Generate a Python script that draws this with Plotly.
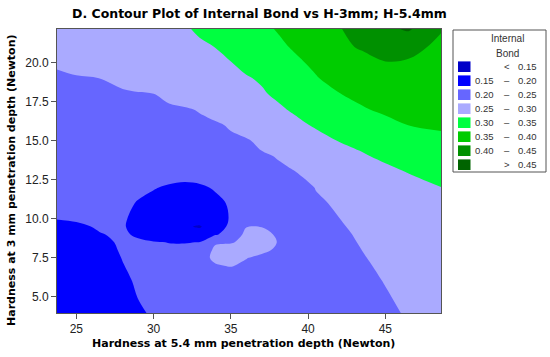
import plotly.graph_objects as go

# Hardness at 5.4 mm (x) and at 3 mm (y), Newton
h54 = [23.75, 25, 26.5, 28, 29, 30, 31, 32, 33, 34, 35, 36, 37, 38, 39, 40.5, 42, 43.5, 45, 46.5, 48.6]
h3 = [3.97, 5, 6, 7, 7.5, 8, 8.5, 9, 9.5, 10, 11, 12, 13, 14, 15, 16, 17, 18, 19, 20, 21, 22.15]

# Internal Bond, one row per h3 value
internal_bond = [
    [0.1770, 0.1820, 0.1880, 0.1940, 0.1980, 0.2017, 0.2047, 0.2077, 0.2107, 0.2137, 0.2168, 0.2198, 0.2228, 0.2258, 0.2289, 0.2334, 0.2379, 0.2424, 0.2470, 0.2515, 0.2578],
    [0.1790, 0.1840, 0.1900, 0.1960, 0.2003, 0.2030, 0.2061, 0.2091, 0.2122, 0.2152, 0.2183, 0.2213, 0.2244, 0.2274, 0.2305, 0.2351, 0.2396, 0.2442, 0.2488, 0.2533, 0.2596],
    [0.1808, 0.1858, 0.1918, 0.1978, 0.2014, 0.2045, 0.2075, 0.2106, 0.2160, 0.2260, 0.2300, 0.2290, 0.2280, 0.2291, 0.2322, 0.2368, 0.2414, 0.2460, 0.2506, 0.2551, 0.2614],
    [0.1826, 0.1876, 0.1936, 0.1996, 0.2028, 0.2059, 0.2090, 0.2140, 0.2280, 0.2480, 0.2515, 0.2450, 0.2380, 0.2340, 0.2350, 0.2386, 0.2433, 0.2480, 0.2526, 0.2571, 0.2634],
    [0.1834, 0.1884, 0.1944, 0.2004, 0.2035, 0.2066, 0.2110, 0.2180, 0.2400, 0.2555, 0.2565, 0.2510, 0.2445, 0.2400, 0.2370, 0.2400, 0.2443, 0.2491, 0.2536, 0.2581, 0.2644],
    [0.1843, 0.1893, 0.1953, 0.2013, 0.2042, 0.2040, 0.2035, 0.2050, 0.2280, 0.2560, 0.2580, 0.2565, 0.2555, 0.2465, 0.2420, 0.2420, 0.2453, 0.2501, 0.2545, 0.2590, 0.2653],
    [0.1852, 0.1902, 0.1962, 0.2022, 0.2035, 0.2015, 0.1995, 0.1990, 0.2005, 0.2465, 0.2485, 0.2545, 0.2570, 0.2498, 0.2440, 0.2430, 0.2460, 0.2512, 0.2555, 0.2600, 0.2663],
    [0.1858, 0.1914, 0.1988, 0.2035, 0.1965, 0.1860, 0.1770, 0.1600, 0.1680, 0.1960, 0.2160, 0.2620, 0.2605, 0.2461, 0.2445, 0.2450, 0.2475, 0.2519, 0.2563, 0.2608, 0.2672],
    [0.1901, 0.1958, 0.2025, 0.2030, 0.1887, 0.1780, 0.1700, 0.1550, 0.1460, 0.1820, 0.2077, 0.2485, 0.2490, 0.2468, 0.2460, 0.2470, 0.2487, 0.2530, 0.2575, 0.2620, 0.2683],
    [0.2008, 0.2030, 0.2045, 0.2040, 0.1907, 0.1810, 0.1740, 0.1700, 0.1720, 0.1860, 0.2025, 0.2200, 0.2330, 0.2420, 0.2450, 0.2470, 0.2498, 0.2558, 0.2630, 0.2700, 0.2790],
    [0.2060, 0.2065, 0.2070, 0.2060, 0.1983, 0.1880, 0.1810, 0.1780, 0.1800, 0.1890, 0.2054, 0.2210, 0.2320, 0.2390, 0.2440, 0.2480, 0.2518, 0.2600, 0.2680, 0.2765, 0.2880],
    [0.2110, 0.2115, 0.2120, 0.2100, 0.2060, 0.2025, 0.1952, 0.1890, 0.1930, 0.2047, 0.2130, 0.2220, 0.2300, 0.2370, 0.2430, 0.2505, 0.2600, 0.2690, 0.2780, 0.2870, 0.2995],
    [0.2160, 0.2165, 0.2170, 0.2170, 0.2175, 0.2180, 0.2185, 0.2204, 0.2230, 0.2270, 0.2320, 0.2370, 0.2420, 0.2460, 0.2485, 0.2586, 0.2693, 0.2800, 0.2907, 0.3014, 0.3150],
    [0.2210, 0.2215, 0.2225, 0.2235, 0.2245, 0.2255, 0.2270, 0.2290, 0.2320, 0.2360, 0.2400, 0.2440, 0.2470, 0.2510, 0.2593, 0.2715, 0.2837, 0.2959, 0.3075, 0.3188, 0.3345],
    [0.2260, 0.2265, 0.2275, 0.2290, 0.2300, 0.2315, 0.2335, 0.2360, 0.2390, 0.2420, 0.2455, 0.2475, 0.2556, 0.2648, 0.2741, 0.2880, 0.3013, 0.3107, 0.3202, 0.3310, 0.3450],
    [0.2310, 0.2318, 0.2330, 0.2345, 0.2360, 0.2380, 0.2400, 0.2425, 0.2450, 0.2465, 0.2528, 0.2623, 0.2717, 0.2811, 0.2906, 0.3039, 0.3156, 0.3273, 0.3391, 0.3504, 0.3530],
    [0.2360, 0.2370, 0.2385, 0.2405, 0.2420, 0.2440, 0.2460, 0.2475, 0.2517, 0.2603, 0.2688, 0.2774, 0.2859, 0.2945, 0.3034, 0.3178, 0.3322, 0.3466, 0.3568, 0.3658, 0.3750],
    [0.2410, 0.2425, 0.2445, 0.2465, 0.2482, 0.2499, 0.2564, 0.2631, 0.2698, 0.2765, 0.2832, 0.2899, 0.2966, 0.3054, 0.3163, 0.3326, 0.3489, 0.3598, 0.3703, 0.3808, 0.3900],
    [0.2462, 0.2482, 0.2501, 0.2576, 0.2626, 0.2677, 0.2727, 0.2778, 0.2828, 0.2879, 0.2925, 0.2975, 0.3037, 0.3160, 0.3302, 0.3477, 0.3627, 0.3774, 0.3890, 0.3930, 0.3920],
    [0.2530, 0.2581, 0.2643, 0.2704, 0.2745, 0.2787, 0.2828, 0.2869, 0.2910, 0.2951, 0.2992, 0.3089, 0.3200, 0.3311, 0.3422, 0.3572, 0.3700, 0.3880, 0.3990, 0.3975, 0.3900],
    [0.2580, 0.2631, 0.2693, 0.2755, 0.2796, 0.2837, 0.2878, 0.2919, 0.2960, 0.3003, 0.3108, 0.3212, 0.3316, 0.3421, 0.3526, 0.3691, 0.3920, 0.4040, 0.4120, 0.4080, 0.3940],
    [0.2635, 0.2688, 0.2751, 0.2814, 0.2857, 0.2899, 0.2941, 0.2970, 0.3040, 0.3148, 0.3241, 0.3333, 0.3426, 0.3520, 0.3640, 0.3810, 0.3980, 0.4130, 0.4400, 0.4560, 0.4018],
]

band_colors = ['#0000C8', '#0000FF', '#6666FF', '#AAAAFF', '#00FF40', '#00CC00', '#009000', '#006400']
band_low = ['', '0.15', '0.20', '0.25', '0.30', '0.35', '0.40', '']
band_sym = ['<', '–', '–', '–', '–', '–', '–', '>']
band_high = ['0.15', '0.20', '0.25', '0.30', '0.35', '0.40', '0.45', '0.45']

FONT = 'Liberation Sans'
BOLD = 'DejaVu Sans'

fig = go.Figure()

fig.add_trace(go.Contour(
    x=h54, y=h3, z=internal_bond,
    autocontour=False,
    contours=dict(start=0.15, end=0.45, size=0.05, coloring='fill', showlines=False),
    colorscale=[[i / 7, c] for i, c in enumerate(band_colors)],
    line=dict(width=0, smoothing=1.0),
    showscale=False,
    hoverinfo='skip'
))

# plot area in pixels: x 57..441, y 29..313
L, W, T, H = 57, 384, 29, 284


def px(x):
    return (x - L) / W


def py(y):
    return 1 - (y - T) / H


shapes = [dict(type='rect', xref='paper', yref='paper',
               x0=px(453), x1=px(546), y0=py(172), y1=py(30),
               line=dict(color='#555555', width=1), fillcolor='white', layer='below')]
annotations = [
    dict(text='Internal', x=px(507), y=py(39)),
    dict(text='Bond', x=px(507), y=py(53)),
]
for a in annotations:
    a.update(xref='paper', yref='paper', xanchor='center', yanchor='middle', showarrow=False,
             font=dict(family=FONT, size=10, color='#333333'))

for i, c in enumerate(band_colors):
    cy = 66.7 + 14 * i
    shapes.append(dict(type='rect', xref='paper', yref='paper',
                       x0=px(458), x1=px(470.5), y0=py(cy + 5.3), y1=py(cy - 5.3),
                       line=dict(width=0), fillcolor=c))
    for txt, x, anchor in [(band_low[i], 495.5, 'right'), (band_sym[i], 507, 'center'),
                           (band_high[i], 538.5, 'right')]:
        if txt:
            annotations.append(dict(text=txt, x=px(x), y=py(cy), xref='paper', yref='paper',
                                    xanchor=anchor, yanchor='middle', showarrow=False,
                                    font=dict(family=FONT, size=9.5, color='#333333')))

annotations += [
    dict(text='<b>D. Contour Plot of Internal Bond vs H-3mm; H-5.4mm</b>', x=px(259), y=py(13),
         xref='paper', yref='paper', xanchor='center', yanchor='middle', showarrow=False,
         font=dict(family=BOLD, size=12.5, color='black')),
    dict(text='<b>Hardness at 5.4 mm penetration depth (Newton)</b>', x=px(243.5), y=py(343),
         xref='paper', yref='paper', xanchor='center', yanchor='middle', showarrow=False,
         font=dict(family=BOLD, size=11, color='black')),
    dict(text='<b>Hardness at 3 mm penetration depth (Newton)</b>', x=px(11), y=py(180),
         xref='paper', yref='paper', xanchor='center', yanchor='middle', showarrow=False,
         textangle=-90, font=dict(family=BOLD, size=11, color='black')),
]

axis_common = dict(showline=True, mirror=True, linecolor='#555555', linewidth=1,
                   ticks='outside', ticklen=5, tickcolor='#555555', showgrid=False,
                   zeroline=False, tickfont=dict(family=FONT, size=12, color='#222222'))

fig.update_xaxes(range=[23.75, 48.6], tick0=25, dtick=5, **axis_common)
fig.update_yaxes(range=[3.97, 22.15], tick0=5, dtick=2.5, tickformat='.1f', **axis_common)

fig.update_layout(
    width=550, height=357,
    margin=dict(l=L, r=550 - L - W, t=T, b=357 - T - H),
    plot_bgcolor='white', paper_bgcolor='white',
    showlegend=False,
    shapes=shapes,
    annotations=annotations
)

# drop the page's default body margin so the figure sits at the window origin
fig.write_html("out.html", config={'displayModeBar': False},
               post_script="document.body.style.margin='0';")
